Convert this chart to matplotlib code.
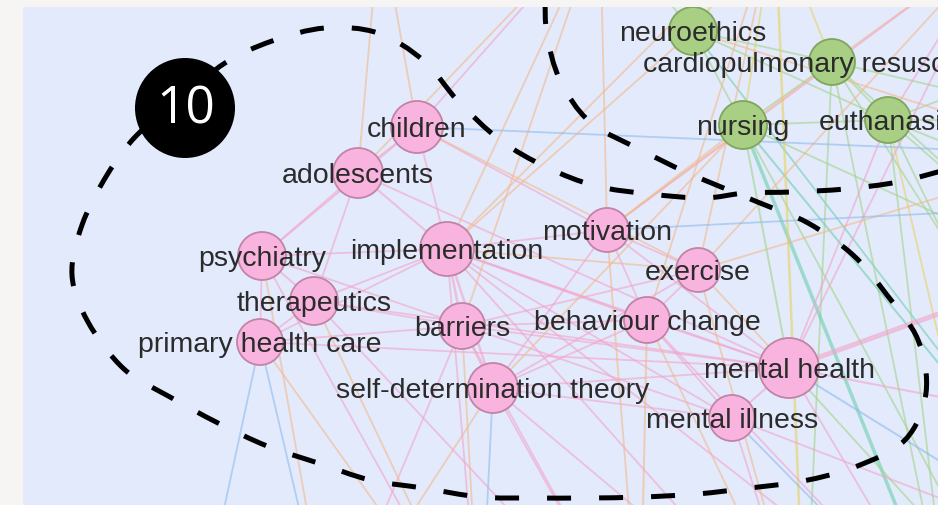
import matplotlib
matplotlib.use("Agg")
import matplotlib.pyplot as plt
from matplotlib.patches import Circle, PathPatch, Rectangle
from matplotlib.path import Path
import numpy as np

plt.rcParams['lines.scale_dashes'] = False

# ---------------- data ----------------
node_names = ["neuroethics", "cardiopulmonary resuscitation", "nursing", "euthanasia",
              "children", "adolescents", "psychiatry", "implementation", "motivation",
              "therapeutics", "primary health care", "barriers", "exercise",
              "behaviour change", "self-determination theory", "mental health", "mental illness"]
node_x = [693, 832, 743, 888, 417, 358, 262, 447, 607, 314, 260, 462, 698, 647, 493, 789, 732]
node_y = [31, 62, 125, 120, 127, 173, 256, 249, 230, 301, 342, 326, 270, 320, 388, 368, 418]
node_r = [24, 23, 24, 23, 26, 25, 24, 27, 22, 24, 23, 23, 22, 23, 25, 30, 23]
node_group = ["green", "green", "green", "green", "pink", "pink", "pink", "pink", "pink",
              "pink", "pink", "pink", "pink", "pink", "pink", "pink", "pink"]

# nodes of the network that lie outside the visible crop
anchor_names = ["N1", "N2", "N3", "N4", "N5", "E1", "E2", "E2b", "E3", "E4", "E5",
                "S1", "S2", "S3", "S4", "S5", "S6", "S7"]
anchor_x = [380, 600, 775, 1000, 1150, 1080, 1080, 1100, 1060, 1060, 1100,
            950, 805, 640, 480, 330, 200, 1000]
anchor_y = [-80, -80, -80, -60, 20, 155, 120, 205, 270, 420, 560,
            640, 650, 650, 650, 640, 620, 600]

# edges: (source, target, colour, width in px)
edges = [
    # green cluster
    ("neuroethics", "cardiopulmonary resuscitation", "green", 1.8),
    ("neuroethics", "nursing", "green", 1.8),
    ("neuroethics", "euthanasia", "green", 1.8),
    ("cardiopulmonary resuscitation", "nursing", "green", 1.8),
    ("cardiopulmonary resuscitation", "euthanasia", "green", 1.8),
    ("nursing", "euthanasia", "green", 1.8),
    ("neuroethics", "N3", "yellow", 2.5),
    ("neuroethics", "N2", "green", 1.8),
    ("neuroethics", "E5", "teal", 1.8),
    ("cardiopulmonary resuscitation", "N4", "orange", 1.8),
    ("cardiopulmonary resuscitation", "N3", "yellow", 1.8),
    ("cardiopulmonary resuscitation", "E2", "green", 1.8),
    ("cardiopulmonary resuscitation", "E4", "green", 1.8),
    ("cardiopulmonary resuscitation", "S2", "green", 1.8),
    ("cardiopulmonary resuscitation", "S1", "green", 1.8),
    ("cardiopulmonary resuscitation", "E3", "green", 1.8),
    ("euthanasia", "E2", "green", 1.8),
    ("euthanasia", "E2b", "green", 1.8),
    ("euthanasia", "E3", "green", 1.8),
    ("euthanasia", "S1", "green", 1.8),
    ("euthanasia", "N4", "pink", 1.8),
    ("euthanasia", "N5", "green", 1.8),
    ("euthanasia", "E5", "green", 1.8),
    ("euthanasia", "S7", "yellow", 1.8),
    ("nursing", "S1", "teal", 3.5),
    ("nursing", "E5", "teal", 2.0),
    ("nursing", "E3", "green", 1.8),
    ("nursing", "N3", "yellow", 1.8),
    ("nursing", "S7", "green", 1.8),
    ("N3", "S2", "yellow", 2.5),
    ("neuroethics", "E1", "orange", 1.8),
    ("N2", "N5", "orange", 1.8),
    # pink cluster, internal
    ("children", "adolescents", "pink", 1.8),
    ("children", "implementation", "pink", 1.8),
    ("children", "psychiatry", "pink", 1.8),
    ("children", "motivation", "pink", 1.8),
    ("children", "exercise", "orange", 1.8),
    ("adolescents", "psychiatry", "pink", 1.8),
    ("adolescents", "implementation", "pink", 2.0),
    ("adolescents", "therapeutics", "pink", 1.8),
    ("adolescents", "mental health", "pink", 1.8),
    ("psychiatry", "therapeutics", "pink", 2.0),
    ("psychiatry", "primary health care", "pink", 1.8),
    ("psychiatry", "implementation", "pink", 1.8),
    ("psychiatry", "mental illness", "pink", 1.8),
    ("therapeutics", "primary health care", "pink", 1.8),
    ("therapeutics", "barriers", "pink", 1.8),
    ("therapeutics", "implementation", "pink", 1.8),
    ("therapeutics", "mental health", "pink", 1.8),
    ("primary health care", "implementation", "pink", 1.8),
    ("primary health care", "mental health", "pink", 1.8),
    ("primary health care", "barriers", "pink", 1.8),
    ("implementation", "barriers", "pink", 2.5),
    ("implementation", "motivation", "pink", 1.8),
    ("implementation", "behaviour change", "pink", 2.5),
    ("implementation", "self-determination theory", "pink", 2.5),
    ("implementation", "exercise", "orange", 1.8),
    ("implementation", "mental health", "pink", 2.0),
    ("implementation", "mental illness", "pink", 1.8),
    ("barriers", "self-determination theory", "pink", 2.0),
    ("barriers", "behaviour change", "pink", 1.8),
    ("barriers", "mental health", "pink", 1.8),
    ("barriers", "exercise", "pink", 1.8),
    ("motivation", "exercise", "pink", 1.8),
    ("motivation", "self-determination theory", "pink", 1.8),
    ("motivation", "behaviour change", "pink", 1.8),
    ("motivation", "mental health", "pink", 1.8),
    ("exercise", "behaviour change", "pink", 1.8),
    ("exercise", "mental health", "orange", 1.8),
    ("exercise", "self-determination theory", "pink", 1.8),
    ("behaviour change", "self-determination theory", "pink", 1.8),
    ("behaviour change", "mental health", "pink", 1.8),
    ("behaviour change", "mental illness", "pink", 1.8),
    ("self-determination theory", "mental health", "pink", 1.8),
    ("self-determination theory", "mental illness", "pink", 1.8),
    ("mental health", "mental illness", "pink", 2.0),
    # pink cluster, to nodes outside the crop
    ("mental health", "E3", "pink", 5.0),
    ("mental health", "E4", "pink", 2.0),
    ("mental health", "S1", "pink", 1.8),
    ("mental health", "S7", "green", 1.8),
    ("mental health", "E5", "blue", 2.0),
    ("mental health", "N4", "pink", 1.8),
    ("mental illness", "S2", "pink", 1.8),
    ("mental illness", "E5", "pink", 1.8),
    ("mental illness", "S1", "blue", 1.8),
    ("self-determination theory", "S3", "pink", 1.8),
    ("self-determination theory", "S4", "blue", 1.8),
    ("self-determination theory", "S5", "orange", 1.8),
    ("self-determination theory", "S2", "pink", 1.8),
    ("barriers", "S3", "pink", 1.8),
    ("barriers", "S4", "orange", 1.8),
    ("barriers", "S5", "pink", 1.8),
    ("barriers", "N2", "orange", 1.8),
    ("implementation", "S2", "pink", 1.8),
    ("implementation", "S1", "pink", 1.8),
    ("implementation", "S4", "pink", 1.8),
    ("implementation", "N2", "orange", 1.8),
    ("implementation", "N3", "orange", 1.8),
    ("behaviour change", "S3", "orange", 2.0),
    ("behaviour change", "S1", "pink", 1.8),
    ("behaviour change", "S2", "orange", 1.8),
    ("behaviour change", "N3", "orange", 1.8),
    ("primary health care", "S5", "blue", 1.8),
    ("primary health care", "S4", "orange", 1.8),
    ("primary health care", "S6", "blue", 1.8),
    ("exercise", "N3", "orange", 1.8),
    ("exercise", "E1", "orange", 1.8),
    ("exercise", "N4", "orange", 1.8),
    ("exercise", "S2", "orange", 1.8),
    ("motivation", "N2", "orange", 1.8),
    ("motivation", "E2b", "blue", 1.8),
    ("motivation", "N4", "pink", 1.8),
    ("motivation", "S3", "orange", 1.8),
    ("children", "N1", "orange", 1.8),
    ("children", "N2", "pink", 1.8),
    ("children", "E1", "blue", 1.8),
    ("psychiatry", "S4", "pink", 1.8),
    ("psychiatry", "S5", "orange", 1.8),
    ("therapeutics", "S3", "pink", 1.8),
    ("therapeutics", "S4", "orange", 1.8),
    ("adolescents", "N2", "orange", 1.8),
    ("adolescents", "N1", "orange", 1.8),
    # between clusters
    ("nursing", "mental health", "green", 2.0),
    ("euthanasia", "mental health", "pink", 1.8),
    ("neuroethics", "implementation", "orange", 1.8),
    ("cardiopulmonary resuscitation", "motivation", "orange", 1.8),
    ("nursing", "motivation", "orange", 1.8),
    ("nursing", "self-determination theory", "orange", 1.8),
]

# dashed cluster boundary (hand-drawn annotation), through these points
boundary_x = [545, 547, 560, 590, 641, 688, 760, 808, 853, 887, 918, 926, 905, 855, 803, 750,
              697, 642, 587, 533, 480, 423, 370, 318, 267, 218, 170, 124, 88, 72, 82, 107, 137,
              182, 225, 272, 325, 378, 424, 458, 500, 546, 596, 650, 704, 745, 792, 845, 898, 945]
boundary_y = [0, 35, 80, 122, 150, 173, 203, 223, 255, 295, 340, 393, 440, 467, 481, 488,
              494, 497, 498, 498, 497, 488, 480, 463, 446, 423, 397, 369, 322, 275, 225, 175, 135,
              98, 63, 41, 28, 33, 61, 101, 140, 167, 186, 194, 198, 193, 192, 189, 182, 170]

cluster_label = "10"
cluster_label_x, cluster_label_y, cluster_label_r = 185, 108, 50

# ---------------- styles ----------------
W, H = 938, 505
PX = 72.0 / 100.0  # points per pixel at dpi 100
edge_palette = {"pink": "#f3a3ca", "orange": "#f4b88a", "blue": "#8fbaec",
                "green": "#a2d486", "teal": "#6ccfac", "yellow": "#e8d160"}
node_fill = {"pink": "#f8b4de", "green": "#a9cf84"}
node_edge = {"pink": "#c184a6", "green": "#7fa55f"}
FONT = ['Liberation Sans', 'DejaVu Sans']

fig = plt.figure(figsize=(W / 100, H / 100), dpi=100, facecolor="#f6f5f4")
x0, y0 = 23, 7
ax = fig.add_axes([x0 / W, 0, (W - x0) / W, (H - y0) / H])
ax.set_xlim(x0, W)
ax.set_ylim(H, y0)
ax.set_facecolor("#e2eafc")
ax.axis("off")
ax.add_patch(Rectangle((x0, y0), W - x0, H - y0, facecolor="#e2eafc", edgecolor="none", zorder=0))

pos = {n: (x, y) for n, x, y in zip(node_names, node_x, node_y)}
pos.update({n: (x, y) for n, x, y in zip(anchor_names, anchor_x, anchor_y)})

for s, d, c, w in edges:
    (xs, ys), (xd, yd) = pos[s], pos[d]
    ax.plot([xs, xd], [ys, yd], color=edge_palette[c], lw=w * PX, alpha=0.6,
            solid_capstyle="butt", zorder=1)

for n, x, y, r, g in zip(node_names, node_x, node_y, node_r, node_group):
    ax.add_patch(Circle((x, y), r, facecolor=node_fill[g], edgecolor=node_edge[g],
                        lw=1.8 * PX, zorder=3))
for n, x, y in zip(node_names, node_x, node_y):
    ax.text(x, y + 3, n, ha="center", va="center", fontsize=20.5, color="#2b2b2b",
            family=FONT, zorder=4)

# smooth dashed boundary (Catmull-Rom -> cubic Bezier)
P = np.column_stack([boundary_x, boundary_y]).astype(float)
verts = [P[0]]
codes = [Path.MOVETO]
for i in range(len(P) - 1):
    p0 = P[i - 1] if i > 0 else P[i]
    p1, p2 = P[i], P[i + 1]
    p3 = P[i + 2] if i + 2 < len(P) else P[i + 1]
    verts += [p1 + (p2 - p0) / 6.0, p2 - (p3 - p1) / 6.0, p2]
    codes += [Path.CURVE4] * 3
ax.add_patch(PathPatch(Path(verts, codes), fill=False, edgecolor="black", lw=5 * PX,
                       linestyle=(0, (24 * PX, 28 * PX)), capstyle="butt", zorder=5))

ax.add_patch(Circle((cluster_label_x, cluster_label_y), cluster_label_r, facecolor="black",
                    edgecolor="none", zorder=6))
ax.text(cluster_label_x + 1, cluster_label_y + 15, cluster_label, ha="center", va="baseline",
        fontsize=37, color="white", family=['Open Sans', 'DejaVu Sans'], zorder=7)

fig.savefig("out.png", dpi=100, facecolor=fig.get_facecolor())
